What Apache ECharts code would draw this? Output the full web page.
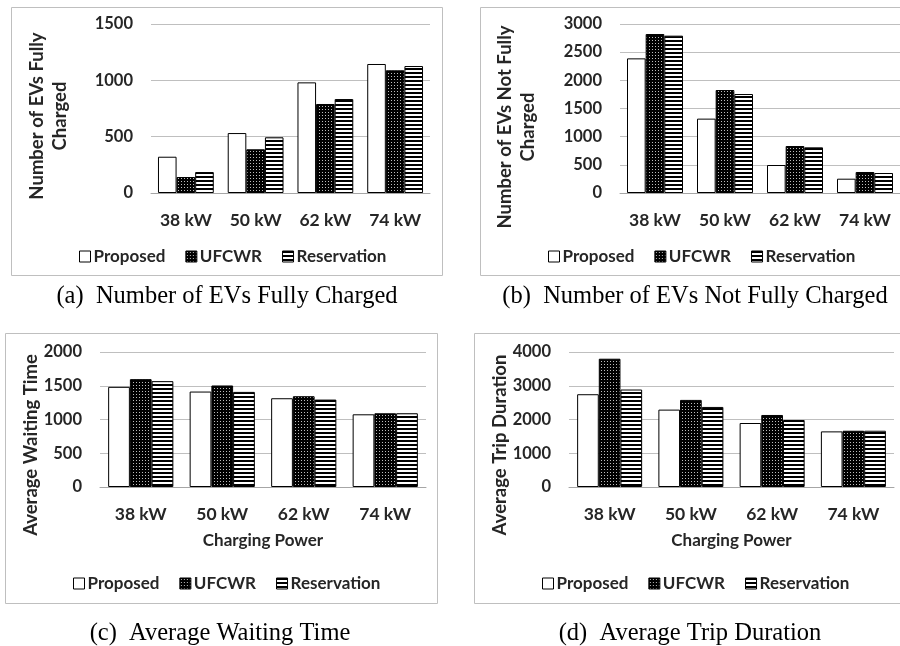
<!DOCTYPE html>
<html>
<head>
<meta charset="utf-8">
<script src="https://cdn.jsdelivr.net/npm/echarts@6/dist/echarts.min.js"></script>
<style>
html,body{margin:0;padding:0;background:#fff;}
#main{width:900px;height:646px;}
</style>
</head>
<body>
<div id="main"></div>
<script>
const categories = ['38 kW', '50 kW', '62 kW', '74 kW'];
const seriesNames = ['Proposed', 'UFCWR', 'Reservation'];

// (a) Number of EVs Fully Charged
const fullyProposed = [322, 532, 982, 1145];
const fullyUFCWR = [142, 388, 790, 1089];
const fullyReservation = [186, 494, 834, 1127];

// (b) Number of EVs Not Fully Charged
const notFullyProposed = [2390, 1320, 497, 254];
const notFullyUFCWR = [2822, 1828, 834, 373];
const notFullyReservation = [2793, 1757, 811, 355];

// (c) Average Waiting Time
const waitProposed = [1484, 1414, 1315, 1077];
const waitUFCWR = [1598, 1504, 1345, 1092];
const waitReservation = [1568, 1409, 1295, 1092];

// (d) Average Trip Duration
const tripProposed = [2749, 2293, 1896, 1648];
const tripUFCWR = [3801, 2581, 2134, 1667];
const tripReservation = [2888, 2372, 1985, 1667];

const yMax = [1500, 3000, 2000, 4000];
const yInterval = [500, 500, 500, 1000];
const yTitleLines = [
  ['Number of EVs Fully', 'Charged'],
  ['Number of EVs Not Fully', 'Charged'],
  ['Average Waiting Time'],
  ['Average Trip Duration']
];
const xTitle = 'Charging Power';
const captions = ['(a)  Number of EVs Fully Charged', '(b)  Number of EVs Not Fully Charged', '(c)  Average Waiting Time', '(d)  Average Trip Duration'];

function dotsPattern() {
  const c = document.createElement('canvas');
  c.width = 3; c.height = 3;
  const g = c.getContext('2d');
  g.fillStyle = '#000'; g.fillRect(0, 0, 3, 3);
  g.fillStyle = '#bdbdbd'; g.fillRect(1, 1, 1, 1);
  return { image: c, repeat: 'repeat' };
}
function stripesPattern() {
  const c = document.createElement('canvas');
  c.width = 4; c.height = 4;
  const g = c.getContext('2d');
  g.fillStyle = '#fff'; g.fillRect(0, 0, 4, 4);
  g.fillStyle = '#000'; g.fillRect(0, 0, 4, 2);
  return { image: c, repeat: 'repeat' };
}
const fills = ['#ffffff', dotsPattern(), stripesPattern()];

const data = [
  [fullyProposed, fullyUFCWR, fullyReservation],
  [notFullyProposed, notFullyUFCWR, notFullyReservation],
  [waitProposed, waitUFCWR, waitReservation],
  [tripProposed, tripUFCWR, tripReservation]
];

const FONT = 'Lato';
const TXT = '#262626';
const grids = [
  { left: 151, top: 24, width: 279, height: 169 },
  { left: 620, top: 24, width: 280, height: 169 },
  { left: 100, top: 352, width: 326, height: 135 },
  { left: 569, top: 352, width: 325, height: 135 }
];
// rotated y-title line centres [x, y]
const yTitlePos = [
  [[37, 116], [60, 116]],
  [[505, 127], [528, 127]],
  [[31.5, 445]],
  [[500, 445]]
];
const legendPos = [
  { left: 74, top: 243 },
  { left: 543, top: 243 },
  { left: 68, top: 570 },
  { left: 537, top: 570 }
];
const frames = [
  { x: 11, y: 7, w: 431, h: 268 },
  { x: 480, y: 7, w: 430, h: 268 },
  { x: 5, y: 333, w: 432, h: 270 },
  { x: 474, y: 333, w: 436, h: 270 }
];
const captionPos = [
  { x: 227, y: 297 },
  { x: 695, y: 297 },
  { x: 220, y: 634 },
  { x: 690, y: 634 }
];

const xAxes = [], yAxes = [], series = [], legends = [], graphics = [];
for (let i = 0; i < 4; i++) {
  xAxes.push({
    type: 'category', gridIndex: i, data: categories,
    axisLine: { lineStyle: { color: '#a6a6a6', width: 1 } },
    axisTick: { show: false },
    axisLabel: { color: TXT, fontFamily: FONT, fontWeight: 'bold', fontSize: 17.5, margin: 18 },
    name: i >= 2 ? xTitle : '',
    nameLocation: 'middle', nameGap: 45,
    nameTextStyle: { color: TXT, fontFamily: FONT, fontWeight: 'bold', fontSize: 17 }
  });
  yAxes.push({
    type: 'value', gridIndex: i, min: 0, max: yMax[i], interval: yInterval[i],
    axisLine: { show: false }, axisTick: { show: false },
    splitLine: { lineStyle: { color: '#bfbfbf', width: 1 } },
    axisLabel: { color: TXT, fontFamily: FONT, fontWeight: 'bold', fontSize: 16.5, margin: 18, formatter: v => String(v) }
  });
  for (let s = 0; s < 3; s++) {
    series.push({
      type: 'bar', name: seriesNames[s], xAxisIndex: i, yAxisIndex: i,
      data: data[i][s], barGap: '0%', barCategoryGap: '20%',
      itemStyle: { color: fills[s], borderColor: '#000', borderWidth: 1 },
      emphasis: { disabled: true }, animation: false
    });
  }
  legends.push({
    left: legendPos[i].left, top: legendPos[i].top,
    orient: 'horizontal', itemWidth: 11, itemHeight: 11, itemGap: 20,
    icon: 'rect', selectedMode: false,
    data: seriesNames.map((n, s) => ({ name: n, itemStyle: { color: fills[s], borderColor: '#000', borderWidth: 1 } })),
    textStyle: { color: TXT, fontFamily: FONT, fontWeight: 'bold', fontSize: 17, padding: [0, 0, 0, -2] }
  });
  graphics.push({
    type: 'rect', shape: { x: frames[i].x + 0.5, y: frames[i].y + 0.5, width: frames[i].w, height: frames[i].h },
    style: { fill: 'none', stroke: '#bfbfbf', lineWidth: 1 }, silent: true, z: -1
  });
  yTitleLines[i].forEach((line, k) => {
    graphics.push({
      type: 'text', x: yTitlePos[i][k][0], y: yTitlePos[i][k][1], rotation: Math.PI / 2,
      style: { text: line, fill: TXT, font: 'bold 18.5px Lato', textAlign: 'center', textVerticalAlign: 'middle' },
      silent: true
    });
  });
  graphics.push({
    type: 'text', x: captionPos[i].x, y: captionPos[i].y,
    style: { text: captions[i], fill: '#000', font: '24.5px "Liberation Serif"', textAlign: 'center', textVerticalAlign: 'middle' },
    silent: true
  });
}

const chart = echarts.init(document.getElementById('main'), null, { renderer: 'canvas' });
chart.setOption({
  animation: false,
  grid: grids,
  xAxis: xAxes,
  yAxis: yAxes,
  legend: legends,
  series: series,
  graphic: graphics
});
</script>
</body>
</html>
